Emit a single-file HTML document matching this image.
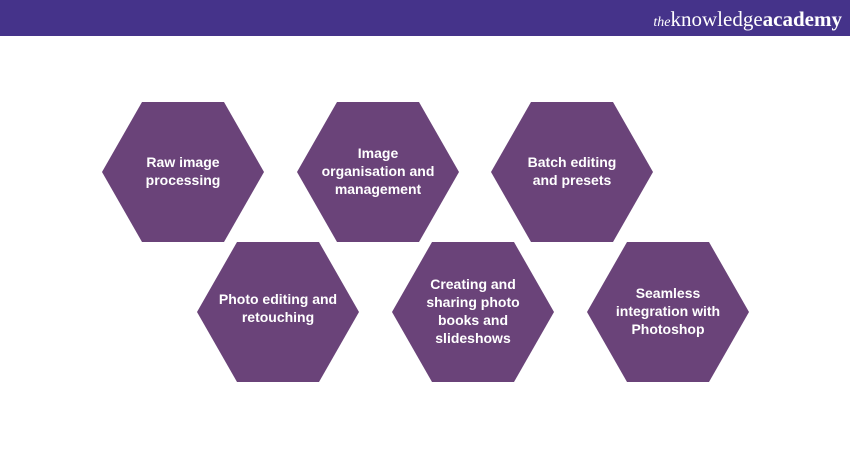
<!DOCTYPE html>
<html><head><meta charset="utf-8"><style>
html,body{margin:0;padding:0;width:850px;height:450px;background:#fff;overflow:hidden}
svg{display:block}
text{font-family:"Liberation Sans",sans-serif;font-size:14px;fill:#fff;text-anchor:middle}
</style></head><body>
<svg width="850" height="450" xmlns="http://www.w3.org/2000/svg">
<rect x="0" y="0" width="850" height="36" fill="#45338a"/>
<text x="842" y="26" style="text-anchor:end;font-family:'Liberation Serif',serif;font-size:21px;fill:#fff"><tspan style="font-style:italic;font-size:14px">the</tspan>knowledge<tspan font-weight="bold">academy</tspan></text>
<g fill="#6a4379">
<polygon points="142,102 224,102 264,172 224,242 142,242 102,172"/>
<polygon points="337,102 419,102 459,172 419,242 337,242 297,172"/>
<polygon points="531,102 613,102 653,172 613,242 531,242 491,172"/>
<polygon points="237,242 319,242 359,312 319,382 237,382 197,312"/>
<polygon points="432,242 514,242 554,312 514,382 432,382 392,312"/>
<polygon points="627,242 709,242 749,312 709,382 627,382 587,312"/>
</g>
<g font-weight="bold">
<text x="183" y="167">Raw image</text><text x="183" y="185">processing</text>
<text x="378" y="158">Image</text><text x="378" y="176">organisation and</text><text x="378" y="194">management</text>
<text x="572" y="167">Batch editing</text><text x="572" y="185">and presets</text>
<text x="278" y="304">Photo editing and</text><text x="278" y="322">retouching</text>
<text x="473" y="289">Creating and</text><text x="473" y="307">sharing photo</text><text x="473" y="325">books and</text><text x="473" y="343">slideshows</text>
<text x="668" y="298">Seamless</text><text x="668" y="316">integration with</text><text x="668" y="334">Photoshop</text>
</g>
</svg>
</body></html>
